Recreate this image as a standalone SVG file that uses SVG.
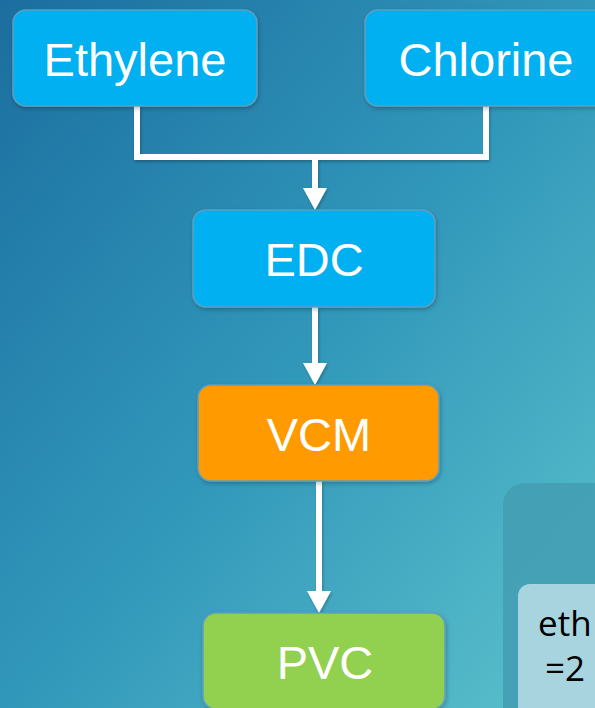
<svg xmlns="http://www.w3.org/2000/svg" width="595" height="708" viewBox="0 0 595 708">
<defs>
<linearGradient id="bg" x1="0" y1="0" x2="1" y2="1">
<stop offset="0" stop-color="#1B6E9F"/>
<stop offset="0.5" stop-color="#3197BA"/>
<stop offset="1" stop-color="#5CC2CC"/>
</linearGradient>
<filter id="sh" x="-20%" y="-20%" width="140%" height="140%">
<feDropShadow dx="1" dy="2" stdDeviation="2" flood-color="#000" flood-opacity="0.25"/>
</filter>
<filter id="lsh" filterUnits="userSpaceOnUse" x="0" y="0" width="595" height="708">
<feDropShadow dx="1" dy="2" stdDeviation="1.5" flood-color="#000" flood-opacity="0.25"/>
</filter>
<marker id="ah" viewBox="0 0 22 24" refX="12" refY="12" markerWidth="22" markerHeight="24" markerUnits="userSpaceOnUse" orient="auto">
<path d="M0,0 L22,12 L0,24 Z" fill="#fff"/>
</marker>
</defs>
<style>
.node{stroke:#5E9FC0;stroke-width:1.5;filter:url(#sh)}
.blue{fill:#03B0F0}
.orange{fill:#FF9A00}
.green{fill:#92D050}
.lbl{font-family:"Liberation Sans",Arial,sans-serif;font-size:47px;fill:#fff;text-anchor:middle}
.conn{fill:none;stroke:#fff;stroke-width:6}
.note{font-family:"Open Sans","Noto Sans",sans-serif;font-size:35px;fill:#000}
</style>
<rect width="595" height="708" fill="url(#bg)"/>
<g id="panel">
<rect x="503" y="483" width="140" height="260" rx="22" fill="#449EB2" opacity="0.9"/>
<rect x="518" y="584" width="120" height="140" rx="12" fill="#A7D4DF"/>
<text class="note" x="538" y="636">eth</text>
<text class="note" x="545" y="681">=2</text>
</g>
<g id="connectors" filter="url(#lsh)">
<path class="conn" d="M137,106 V157 H486 V106"/>
<path class="conn" d="M315,157 V200" marker-end="url(#ah)"/>
<path class="conn" d="M315,307 V375" marker-end="url(#ah)"/>
<path class="conn" d="M319,481 V603" marker-end="url(#ah)"/>
</g>
<g id="ethylene">
<rect class="node blue" x="13" y="10" width="244" height="96" rx="13"/>
<text class="lbl" x="135" y="76">Ethylene</text>
</g>
<g id="chlorine">
<rect class="node blue" x="365" y="10" width="244" height="96" rx="13"/>
<text class="lbl" x="486" y="76">Chlorine</text>
</g>
<g id="edc">
<rect class="node blue" x="193" y="210" width="242" height="97" rx="13"/>
<text class="lbl" x="314" y="276">EDC</text>
</g>
<g id="vcm">
<rect class="node orange" x="198" y="385" width="241" height="96" rx="13"/>
<text class="lbl" x="319" y="451">VCM</text>
</g>
<g id="pvc">
<rect class="node green" x="203" y="613" width="242" height="96" rx="13"/>
<text class="lbl" x="325" y="679">PVC</text>
</g>
</svg>
